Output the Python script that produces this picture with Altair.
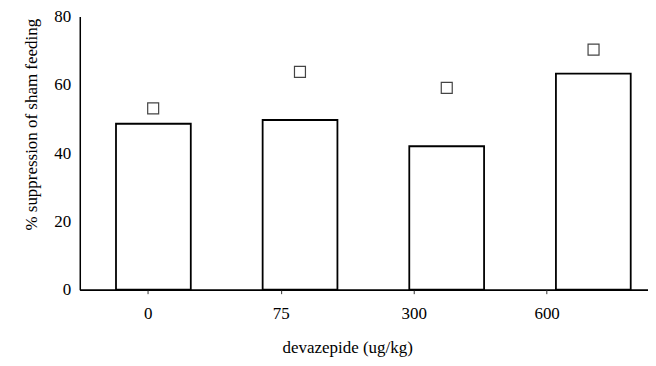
import altair as alt
import pandas as pd

doses = ["0", "75", "300", "600"]
bar_vals = [48.6, 49.7, 42.0, 63.3]
square_vals = [53.1, 63.8, 59.1, 70.3]

df = pd.DataFrame({"dose": doses, "bar": bar_vals, "sq": square_vals})

FONT = "Liberation Serif, DejaVu Serif, serif"
FS = 17

yaxis = alt.Axis(
    values=[0, 20, 40, 60, 80],
    ticks=False,
    tickSize=0,
    grid=False,
    labelPadding=9,
    labelFont=FONT,
    labelFontSize=FS,
    labelColor="black",
    domainColor="black",
    domainWidth=1.5,
    title="% suppression of sham feeding",
    titleFont=FONT,
    titleFontSize=FS,
    titleFontWeight="normal",
    titleColor="black",
    titleAngle=-90,
    titleX=-48,
    titleY=108,
    titleAlign="center",
    titleBaseline="middle",
)
yscale = alt.Scale(domain=[0, 80], nice=False)

bar_xscale = alt.Scale(range=[0, 589], paddingInner=0.49, paddingOuter=0.247)

bar_xaxis = alt.Axis(
    orient="bottom",
    labels=False,
    ticks=False,
    title=None,
    domainColor="black",
    domainWidth=1.5,
)

bars = alt.Chart(df).mark_bar(
    fill="white", stroke="black", strokeWidth=1.8
).encode(
    x=alt.X("dose:N", sort=doses, scale=bar_xscale, axis=bar_xaxis),
    y=alt.Y("bar:Q", scale=yscale, axis=yaxis),
)

squares = alt.Chart(df).mark_point(
    shape="square", size=121, filled=False, stroke="#444444", strokeWidth=1.2, opacity=1
).encode(
    x=alt.X("dose:N", sort=doses, scale=bar_xscale, axis=bar_xaxis),
    y=alt.Y("sq:Q", scale=yscale, axis=yaxis),
)

axis_layer = alt.Chart(df).mark_point(opacity=0).encode(
    x=alt.X(
        "dose:N",
        sort=doses,
        scale=alt.Scale(range=[1.5, 535], paddingInner=0, paddingOuter=0),
        axis=alt.Axis(
            orient="bottom",
            domain=False,
            ticks=True,
            tickSize=4,
            tickColor="#333333",
            tickWidth=1,
            labelAngle=0,
            labelPadding=12,
            labelFont=FONT,
            labelFontSize=FS,
            labelColor="black",
            title="devazepide (ug/kg)",
            titleFont=FONT,
            titleFontSize=FS,
            titleFontWeight="normal",
            titleColor="black",
            titlePadding=18,
        ),
    ),
    y=alt.Y("bar:Q", scale=yscale, axis=yaxis),
)

chart = (
    alt.layer(bars, squares, axis_layer)
    .resolve_scale(x="independent")
    .properties(
        width=570,
        height=274,
        autosize=alt.AutoSizeParams(type="none"),
        padding={"left": 72, "top": 8, "right": 0, "bottom": 72},
        background="white",
    )
    .configure_view(stroke=None)
)

chart.save("out.html", embed_options={"renderer": "svg", "actions": False})
